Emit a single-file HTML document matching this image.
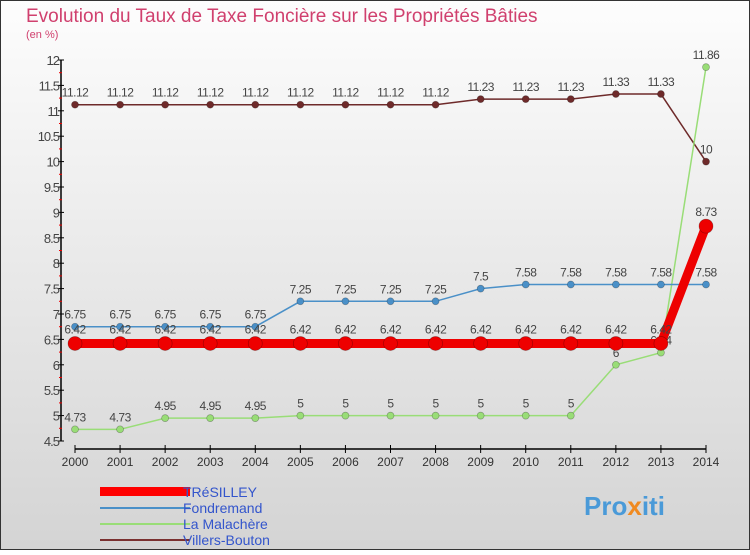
<!DOCTYPE html>
<html><head><meta charset="utf-8"><style>
body{margin:0;width:750px;height:550px;overflow:hidden;font-family:"Liberation Sans",sans-serif}
</style></head><body>
<svg width="750" height="550" viewBox="0 0 750 550" font-family="Liberation Sans, sans-serif">
<defs><linearGradient id="bg" x1="0" y1="0" x2="0" y2="1"><stop offset="0" stop-color="#fdfdfd"/><stop offset="1" stop-color="#d4d4d4"/></linearGradient></defs>
<rect x="0.5" y="0.5" width="749" height="549" fill="url(#bg)" stroke="#333"/>
<text x="26" y="22" font-size="19" fill="#d0406e">Evolution du Taux de Taxe Foncière sur les Propriétés Bâties</text>
<text x="26" y="38" font-size="11" fill="#d0406e">(en %)</text>
<g id="axes"></g>
<g id="series"></g>
<g id="legend">
<rect x="100" y="487" width="90" height="9" fill="#f00"/>
<text x="183" y="497" font-size="14" fill="#3355cc">TRéSILLEY</text>
<line x1="100" y1="508" x2="190" y2="508" stroke="#4a90c8" stroke-width="2"/>
<text x="183" y="513" font-size="14" fill="#3355cc">Fondremand</text>
<line x1="100" y1="524" x2="190" y2="524" stroke="#99dd77" stroke-width="2"/>
<text x="183" y="529" font-size="14" fill="#3355cc">La Malachère</text>
<line x1="100" y1="540" x2="190" y2="540" stroke="#7a3030" stroke-width="2"/>
<text x="183" y="545" font-size="14" fill="#3355cc">Villers-Bouton</text>
</g>
<text x="584" y="515" font-size="26" font-weight="bold" fill="#4a9ad8">Pro<tspan fill="#f08a20">x</tspan>iti</text>
</svg>
<script>
const years=[2000,2001,2002,2003,2004,2005,2006,2007,2008,2009,2010,2011,2012,2013,2014];
const yTicks=[4.5,5,5.5,6,6.5,7,7.5,8,8.5,9,9.5,10,10.5,11,11.5,12];
const tresilley=[6.42,6.42,6.42,6.42,6.42,6.42,6.42,6.42,6.42,6.42,6.42,6.42,6.42,6.42,8.73];
const fondremand=[6.75,6.75,6.75,6.75,6.75,7.25,7.25,7.25,7.25,7.5,7.58,7.58,7.58,7.58,7.58];
const malachere=[4.73,4.73,4.95,4.95,4.95,5,5,5,5,5,5,5,6,6.24,11.86];
const villers=[11.12,11.12,11.12,11.12,11.12,11.12,11.12,11.12,11.12,11.23,11.23,11.23,11.33,11.33,10];
const NS="http://www.w3.org/2000/svg";
const X=i=>75+i*(631/14);
const Y=v=>60+(12-v)*50.8;
function mk(t,a,p){const e=document.createElementNS(NS,t);for(const k in a)e.setAttribute(k,a[k]);p.appendChild(e);return e;}
const ax=document.getElementById('axes');
let l=mk('line',{x1:61,y1:60,x2:61,y2:441,stroke:'#000','stroke-width':1.5},ax);


l=mk('line',{x1:75,y1:449,x2:706,y2:449,stroke:'#000','stroke-width':1.5},ax);


yTicks.forEach((v,i)=>{
  mk('line',{x1:58,y1:Y(v),x2:64,y2:Y(v),stroke:'#000'},ax);
  if(i<yTicks.length-1)mk('line',{x1:59,y1:Y(v+0.25),x2:62,y2:Y(v+0.25),stroke:'#e00'},ax);
  const t=mk('text',{x:59,y:Y(v)+5,'font-size':13,fill:'#444','text-anchor':'end','letter-spacing':'-1'},ax);
  t.textContent=v;
  
  
});
years.forEach((y,i)=>{
  mk('line',{x1:X(i),y1:445,x2:X(i),y2:453,stroke:'#000'},ax);
  const t=mk('text',{x:X(i),y:466,'font-size':12,fill:'#333','text-anchor':'middle'},ax);
  t.textContent=y;
  
  
});
const sg=document.getElementById('series');
function draw(data,name,color,w,r,labelOff){
  const g=mk('g',{},sg);
  
  
  mk('polyline',{points:data.map((v,i)=>X(i)+','+Y(v)).join(' '),fill:'none',stroke:color,'stroke-width':w},g);
  data.forEach((v,i)=>{
    const c=mk('circle',{cx:X(i),cy:Y(v),r:r,fill:color,stroke:'rgba(0,0,0,0.3)','stroke-width':0.7},g);
    
    
    const t=mk('text',{x:X(i),y:Y(v)-labelOff,'font-size':12,fill:'#444','text-anchor':'middle','letter-spacing':'-0.5'},g);
    t.textContent=v;
    
    
  });
}
draw(villers,'villers-bouton','#6e2a2a',1.5,3.5,8);
draw(malachere,'la-malachere','#99dd77',1.5,3.5,8);
draw(fondremand,'fondremand','#4a90c8',1.5,3.5,8);
draw(tresilley,'tresilley','#ee0000',9,7,10);
</script>
</body></html>
